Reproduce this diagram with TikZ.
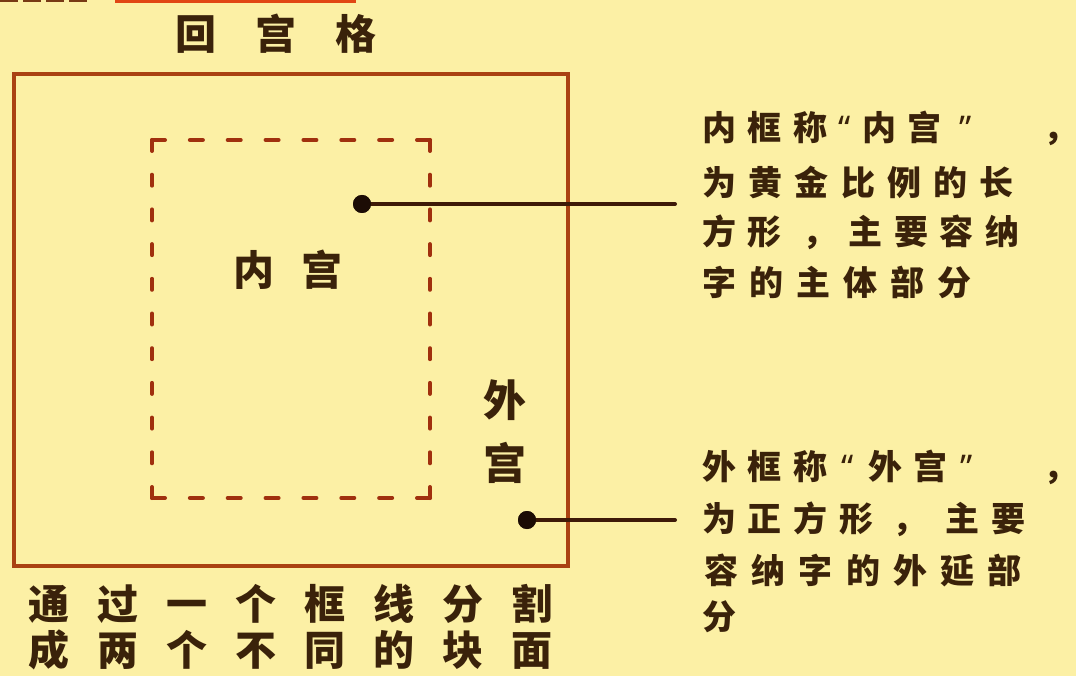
\documentclass[tikz,border=0pt]{standalone}
\usepackage{fontspec}
\newfontfamily\cjk{Noto Sans CJK SC}
\newfontfamily\latq{Noto Sans}
\definecolor{bgcol}{RGB}{252,240,165}
\definecolor{framecol}{RGB}{170,66,18}
\definecolor{dashcol}{RGB}{160,48,14}
\definecolor{inkcol}{RGB}{58,34,10}
\definecolor{conncol}{RGB}{62,26,8}
\definecolor{dotcol}{RGB}{28,12,5}
\definecolor{topred}{RGB}{225,70,20}
\definecolor{topdark}{RGB}{120,58,20}
\newlength\pitch
\newcommand\cb[1]{\makebox[\pitch]{#1}}
\begin{document}
\begin{tikzpicture}[x=1pt,y=-1pt,
  txt/.style={inner sep=0pt,outer sep=0pt,anchor=west,text=inkcol},
  desc/.style={txt,font=\cjk\bfseries\fontsize{34}{40}\selectfont},
  big/.style={txt,font=\cjk\bfseries\fontsize{41}{46}\selectfont},
  outerframe/.style={draw=framecol,line width=4pt},
  dsh/.style={draw=dashcol,line width=4pt,line cap=round},
  conn/.style={draw=conncol,line width=4pt,line cap=round},
  dotnode/.style={circle,fill=dotcol,inner sep=0pt,minimum size=18pt}]
\fill[bgcol] (0,0) rectangle (1076,676);
\useasboundingbox (0,0) rectangle (1076,676);
% cut-off fragments at the top edge
\fill[topred] (115,0) rectangle (356,3);
\draw[topdark,line width=3pt,dash pattern=on 18pt off 5pt] (0,1) -- (87,1);
% title
\node[big] (title) at (156,34) {\setlength\pitch{80pt}\cb{回}\cb{宫}\cb{格}};
% outer frame
\draw[outerframe] (13.5,74) rectangle (568,566);
% inner dashed frame
\draw[dsh,dash pattern=on 13pt off 24.86pt] (152,140) -- (430,140);
\draw[dsh,dash pattern=on 13pt off 24.86pt] (152,498) -- (430,498);
\draw[dsh,dash pattern=on 11pt off 23.7pt] (152,140) -- (152,498);
\draw[dsh,dash pattern=on 11pt off 23.7pt] (430,140) -- (430,498);
% labels in the frames
\node[big] (inner) at (220,270) {\setlength\pitch{68pt}\cb{内}\cb{宫}};
\node[txt,anchor=center,align=center,font=\cjk\bfseries\fontsize{43}{63}\selectfont] (outer) at (505,432) {外\\宫};
% connectors
\node[dotnode] (p1) at (362,204) {};
\coordinate (e1) at (675,204);
\draw[conn] (p1.center) -- (e1);
\node[dotnode] (p2) at (527,520) {};
\coordinate (e2) at (675,520);
\draw[conn] (p2.center) -- (e2);
\node[dotnode] at (p1) {};
\node[dotnode] at (p2) {};
% description 1
\node[desc] (a1) at (696,128) {\setlength\pitch{46pt}\cb{内}\cb{框}\cb{称}\makebox[22pt]{\latq\bfseries “}\cb{内}\cb{宫}\makebox[36pt]{\latq\bfseries ”}\hspace{53.5pt}\cb{，}};
\node[desc] (a2) at (696,182) {\setlength\pitch{46.3pt}\cb{为}\cb{黄}\cb{金}\cb{比}\cb{例}\cb{的}\cb{长}};
\node[desc] (a3) at (696,232) {\setlength\pitch{46pt}\cb{方}\cb{形}\makebox[54pt][l]{\hspace{14pt}，}\cb{主}\cb{要}\cb{容}\cb{纳}};
\node[desc] (a4) at (696,282) {\setlength\pitch{47pt}\cb{字}\cb{的}\cb{主}\cb{体}\cb{部}\cb{分}};
% description 2
\node[desc] (b1) at (696,467) {\setlength\pitch{46pt}\cb{外}\cb{框}\cb{称}\makebox[28pt]{\latq\bfseries “}\cb{外}\cb{宫}\makebox[26pt]{\latq\bfseries ”}\hspace{57.5pt}\cb{，}};
\node[desc] (b2) at (696,519) {\setlength\pitch{46pt}\cb{为}\cb{正}\cb{方}\cb{形}\makebox[60pt][l]{\hspace{12pt}，}\cb{主}\cb{要}};
\node[desc] (b3) at (697.5,570) {\setlength\pitch{47.3pt}\cb{容}\cb{纳}\cb{字}\cb{的}\cb{外}\cb{延}\cb{部}};
\node[desc] (b4) at (696,617) {\setlength\pitch{46pt}\cb{分}};
% bottom caption
\node[big] (c1) at (14.5,604) {\setlength\pitch{69pt}\cb{通}\cb{过}\cb{一}\cb{个}\cb{框}\cb{线}\cb{分}\cb{割}};
\node[big] (c2) at (14.5,650) {\setlength\pitch{69pt}\cb{成}\cb{两}\cb{个}\cb{不}\cb{同}\cb{的}\cb{块}\cb{面}};
\end{tikzpicture}
\end{document}
